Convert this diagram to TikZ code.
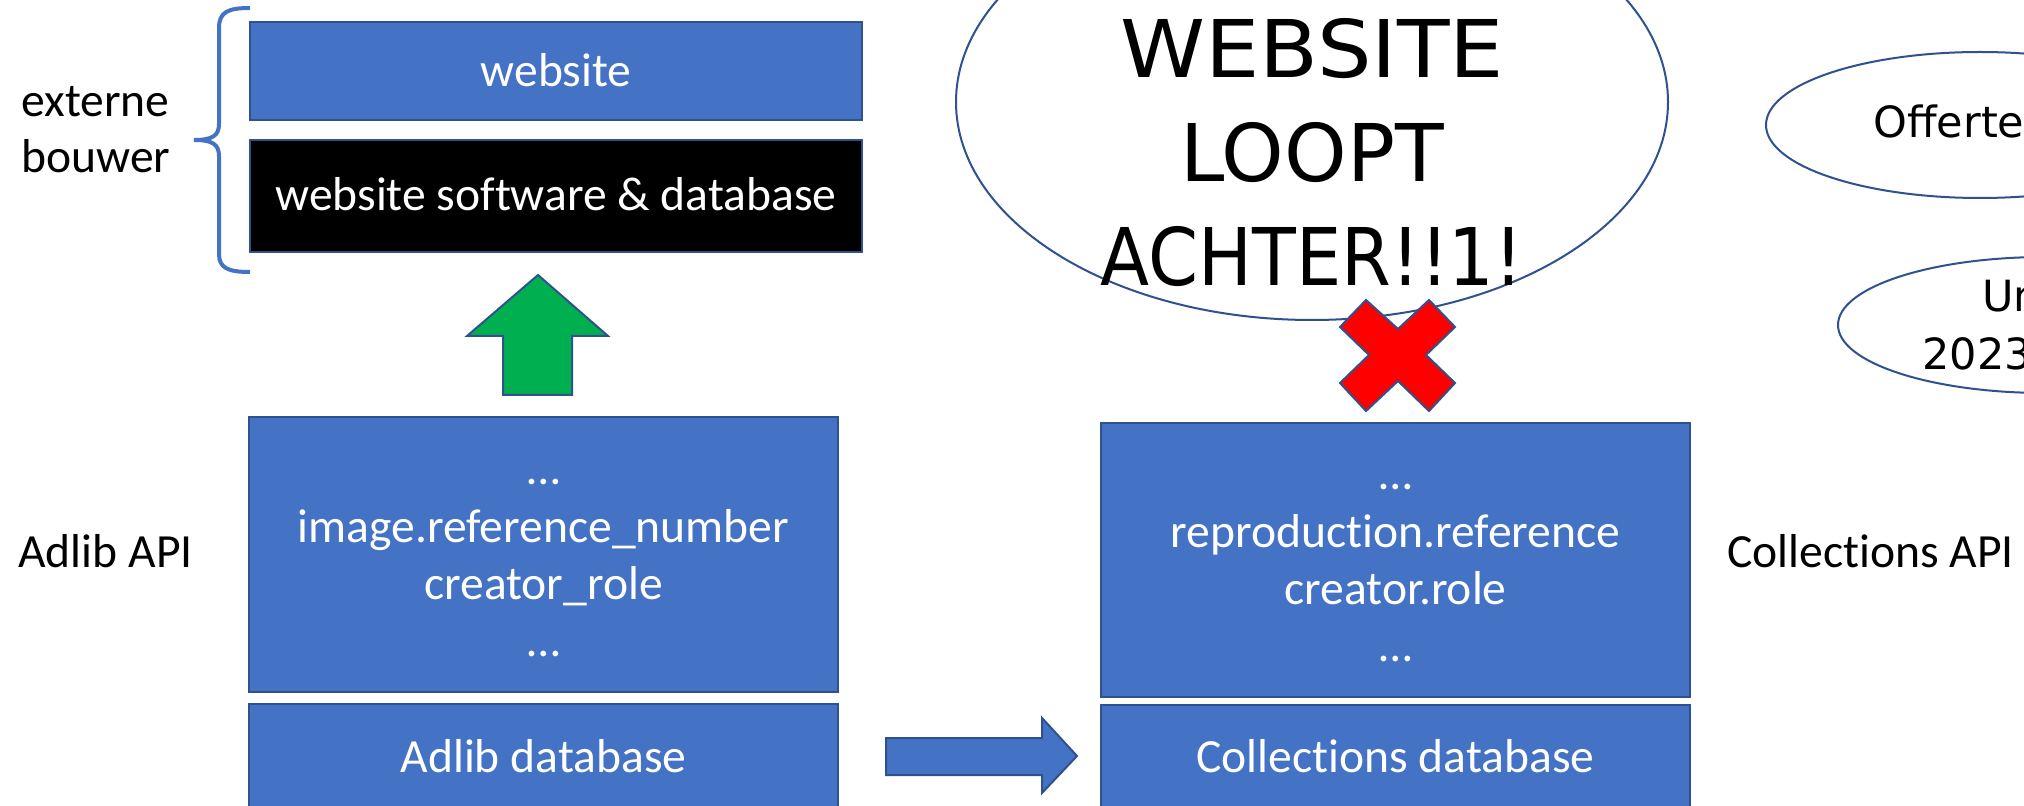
\documentclass[tikz,border=0pt]{standalone}
\usepackage{graphicx}
\usepackage{fontspec}
\setmainfont{Carlito}[Ligatures=NoCommon]
\newfontfamily\hand{DejaVu Sans}
\usetikzlibrary{shapes.geometric}
\definecolor{boxblue}{HTML}{4472C4}
\definecolor{edgeblue}{HTML}{2F528F}
\definecolor{arrgreen}{HTML}{00B050}
\definecolor{xred}{HTML}{FF0000}
\begin{document}
\begin{tikzpicture}[x=0.5pt,y=-0.5pt,
  box/.style={draw=edgeblue, line width=1pt, fill=boxblue, anchor=north west, inner sep=0pt, outer sep=0pt},
  wtxt/.style={text=white, font=\fontsize{23.8}{28.65}\selectfont, anchor=base, inner sep=0pt},
  btxt/.style={text=black, font=\fontsize{23.8}{28.65}\selectfont, anchor=base west, inner sep=0pt},
  htxt/.style={font=\hand\fontsize{21.5}{28}\selectfont, anchor=base west, inner sep=0pt},
  bubble/.style={draw=edgeblue, line width=1pt, fill=white, ellipse, inner sep=0pt}
]
\useasboundingbox (0,0) rectangle (2024,806);
\fill[white] (0,0) rectangle (2024,806);
\clip (0,0) rectangle (2024,806);

% boxes
\node[box, minimum width=306pt, minimum height=49pt] (web) at (250,22) {};
\node[box, fill=black, minimum width=306pt, minimum height=56pt] (soft) at (250,140) {};
\node[box, minimum width=294.5pt, minimum height=137.5pt] (adlibapi) at (249,417) {};
\node[box, minimum width=294.5pt, minimum height=56pt] (adlibdb) at (249,704) {};
\node[box, minimum width=294.5pt, minimum height=137pt] (collapi) at (1101,423) {};
\node[box, minimum width=294.5pt, minimum height=56pt] (colldb) at (1101,705) {};

% texts in boxes
\node[wtxt] (tweb) at (556,87) {website};
\node[wtxt] (tsoft) at (556,211) {website software \& database};
\node[wtxt] (tadfields) at (543.5,485) {\begin{tabular}[t]{@{}c@{}}…\\image.reference\_number\\creator\_role\\…\end{tabular}};
\node[wtxt] (tcollfields) at (1395.5,490) {\begin{tabular}[t]{@{}c@{}}…\\reproduction.reference\\creator.role\\…\end{tabular}};
\node[wtxt] (tadlibdb) at (543.5,772) {Adlib database};
\node[wtxt] (tcolldb) at (1395.5,772) {Collections database};

% side labels
\node[btxt] (textern) at (21,117) {externe};
\node[btxt] (tbouwer) at (21,173) {bouwer};
\node[btxt] (tadlib) at (18,568) {Adlib API};
\node[btxt] (tcoll) at (1727,568) {Collections API};

% brace
\draw[boxblue, line width=2pt] (250,8) .. controls (228,8) and (219,12) .. (219,28) -- (219,124) .. controls (219,136) and (212,140) .. (194,140) .. controls (212,140) and (219,144) .. (219,156) -- (219,254) .. controls (219,268) and (228,272) .. (250,272);

% green up arrow
\filldraw[fill=arrgreen, draw=edgeblue, line width=1pt] (538,275) -- (608,336) -- (572,336) -- (572,395) -- (503,395) -- (503,336) -- (467,336) -- cycle;

% blue right arrow
\filldraw[fill=boxblue, draw=edgeblue, line width=1pt] (886,738) -- (1042,738) -- (1042,718) -- (1077,756) -- (1042,793) -- (1042,775) -- (886,775) -- cycle;

% speech ellipses
\node[bubble, minimum width=356pt, minimum height=218pt] (late) at (1312,102) {};
\node[font=\hand\fontsize{39.8}{52}\selectfont, anchor=base, inner sep=0pt] (tlate) at (1312,78) {\begin{tabular}[t]{@{}c@{}}\scalebox{1.08}[1]{WEBSITE}\\LOOPT\\\scalebox{0.9}[1]{ACHTER!!1!}\end{tabular}};
\node[bubble, minimum width=214pt, minimum height=73pt] (offerte) at (1980,125) {};
\node[htxt] (toff) at (1873,138) {Offerte};
\node[bubble, minimum width=207pt, minimum height=68pt] (un) at (2045,325) {};
\node[htxt] (tun) at (1982,312) {Un};
\node[htxt] (t2023) at (1922,370) {2023};

% red cross
\filldraw[fill=xred, draw=edgeblue, line width=1pt] (1366,300) -- (1398,329) -- (1429,300) -- (1455,327) -- (1426,355) -- (1455,383) -- (1429,411) -- (1398,381) -- (1366,411) -- (1340,383) -- (1369,355) -- (1340,327) -- cycle;
\end{tikzpicture}
\end{document}
